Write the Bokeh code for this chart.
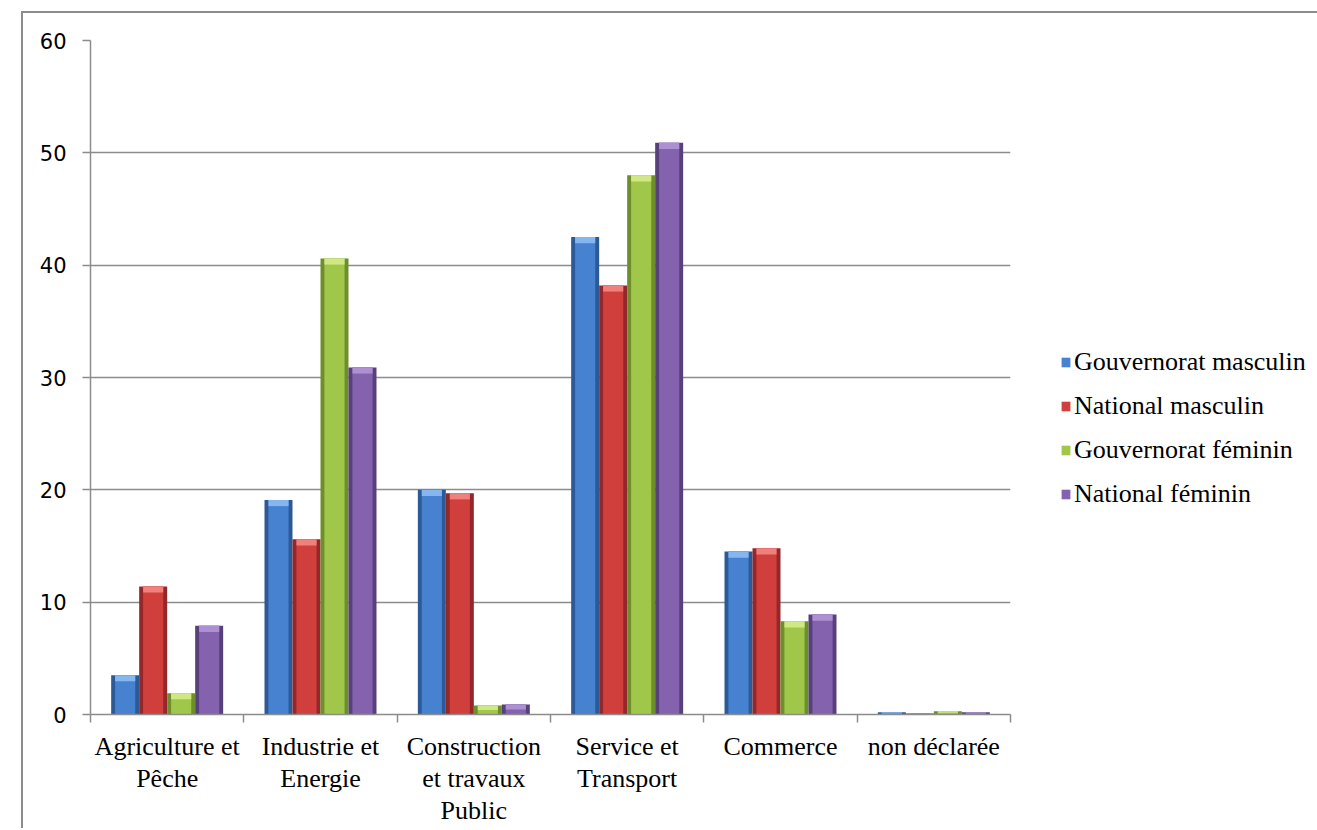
import numpy as np
from bokeh.plotting import figure
from bokeh.models import (Range1d, FixedTicker, Legend, LegendItem, ColumnDataSource)
from bokeh.embed import file_html
from bokeh.resources import INLINE

categories = ["Agriculture et\nPêche", "Industrie et\nEnergie", "Construction\net travaux\nPublic",
              "Service et\nTransport", "Commerce", "non déclarée"]
series_names = ["Gouvernorat masculin", "National masculin", "Gouvernorat féminin", "National féminin"]
gouv_masc = [3.5, 19.1, 20.0, 42.5, 14.5, 0.2]
nat_masc = [11.4, 15.6, 19.7, 38.2, 14.8, 0.1]
gouv_fem = [1.9, 40.6, 0.8, 48.0, 8.3, 0.3]
nat_fem = [7.9, 30.9, 0.9, 50.9, 8.9, 0.2]
y_ticks = [0, 10, 20, 30, 40, 50, 60]

series = [gouv_masc, nat_masc, gouv_fem, nat_fem]
main_colors = ["#4682cf", "#d13f3c", "#a0c64a", "#8462ad"]
dark_colors = ["#2b5a96", "#93272a", "#6e8e2b", "#57407c"]
light_colors = ["#86b6f0", "#f0807c", "#cfe884", "#ac90d3"]

GRAY = "#8c8c8c"

p = figure(frame_width=920, frame_height=674, output_backend="svg", toolbar_location=None,
           x_range=Range1d(0, len(categories)), y_range=Range1d(0, 60),
           min_border_left=67, min_border_right=280, min_border_top=27,
           min_border_bottom=96)
p.styles = {"margin-left": "21px", "margin-top": "11px",
            "border-top": "2px solid #8c8c8c", "border-left": "2px solid #8c8c8c"}
p.outline_line_color = None
p.background_fill_color = "white"
p.border_fill_color = "white"

bw = 0.1826
offsets = [-1.5 * bw, -0.5 * bw, 0.5 * bw, 1.5 * bw]
base_x = np.arange(len(categories)) + 0.5

legend_items = []
for k, vals in enumerate(series):
    vals = np.array(vals, dtype=float)
    xs = base_x + offsets[k]
    cap = np.minimum(0.55, vals * 0.5)
    src = ColumnDataSource(dict(x=xs, top=vals, capb=vals - cap))
    p.vbar(x="x", top="top", bottom=0, width=bw, source=src,
           fill_color=dark_colors[k], line_color=None)
    r = p.vbar(x="x", top="top", bottom=0, width=bw * 0.72, source=src,
               fill_color=main_colors[k], line_color=None)
    p.vbar(x="x", top="top", bottom="capb", width=bw * 0.72, source=src,
           fill_color=light_colors[k], line_color=None)
    legend_items.append(LegendItem(label=series_names[k], renderers=[r]))

# axes
p.xgrid.visible = False
p.ygrid.grid_line_color = GRAY
p.ygrid.grid_line_width = 1.5
p.ygrid.ticker = FixedTicker(ticks=y_ticks)

p.yaxis.ticker = FixedTicker(ticks=y_ticks)
p.yaxis.axis_line_color = GRAY
p.yaxis.axis_line_width = 1.5
p.yaxis.major_tick_line_color = GRAY
p.yaxis.major_tick_line_width = 1.5
p.yaxis.major_tick_out = 8
p.yaxis.major_tick_in = 0
p.yaxis.minor_tick_line_color = None
p.yaxis.major_label_text_font = "DejaVu Sans"
p.yaxis.major_label_text_font_size = "21px"
p.yaxis.major_label_text_color = "black"
p.yaxis.major_label_standoff = 16

p.xaxis.ticker = FixedTicker(ticks=list(base_x), minor_ticks=list(range(len(categories) + 1)))
p.xaxis.major_label_overrides = {float(x): c for x, c in zip(base_x, categories)}
p.xaxis.axis_line_color = GRAY
p.xaxis.axis_line_width = 1.5
p.xaxis.major_tick_line_color = None
p.xaxis.major_tick_out = 0
p.xaxis.major_tick_in = 0
p.xaxis.minor_tick_line_color = GRAY
p.xaxis.minor_tick_line_width = 1.5
p.xaxis.minor_tick_out = 8
p.xaxis.minor_tick_in = 0
p.xaxis.major_label_text_font = "Liberation Serif"
p.xaxis.major_label_text_font_size = "26px"
p.xaxis.major_label_text_color = "black"
p.xaxis.major_label_text_line_height = 1.12
p.xaxis.major_label_standoff = 9

legend = Legend(items=legend_items, location=(50, 205), orientation="vertical",
                border_line_color=None, background_fill_alpha=0, padding=0, margin=0,
                spacing=14, label_height=24, glyph_height=12, glyph_width=11,
                label_standoff=3, label_text_font="Liberation Serif",
                label_text_font_size="26px", label_text_color="black")
p.add_layout(legend, "right")

open("out.html", "w").write(file_html(p, INLINE))
